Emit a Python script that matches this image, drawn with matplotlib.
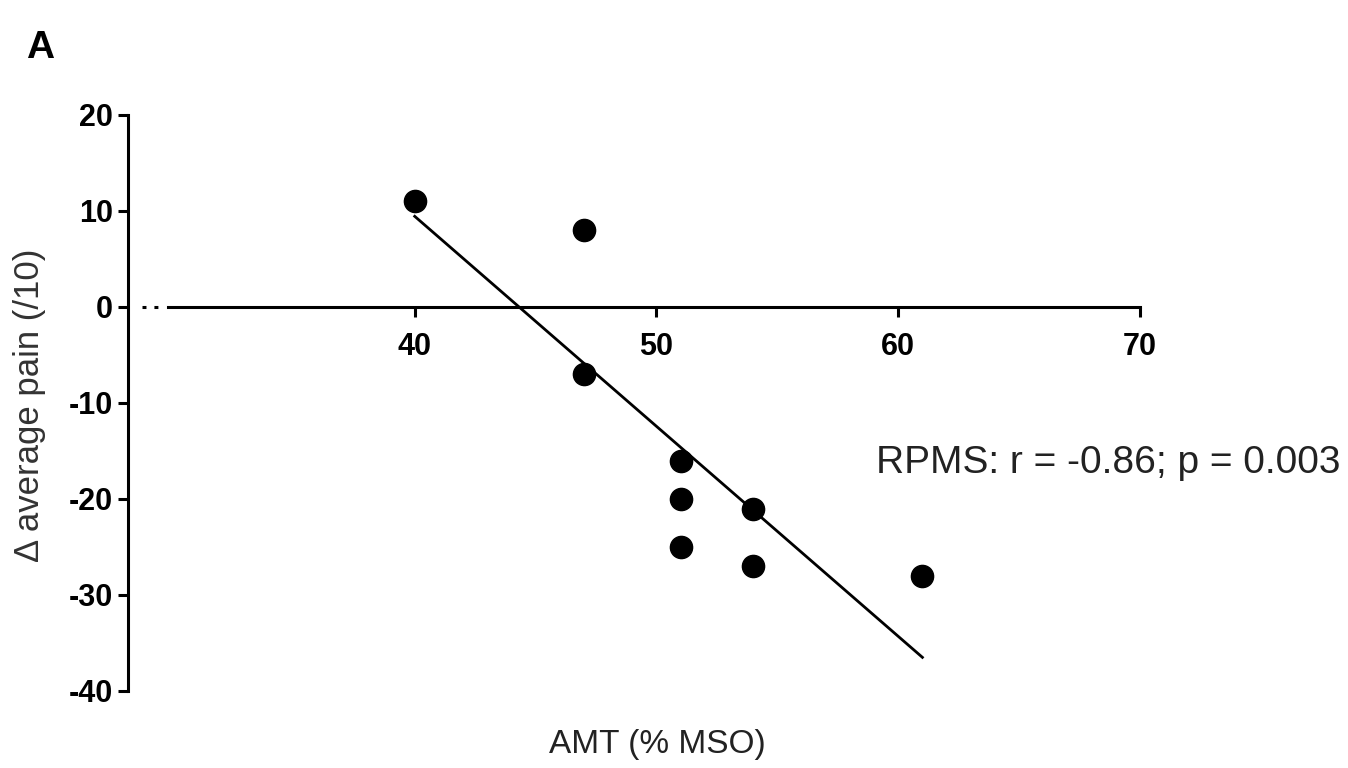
import numpy as np
import matplotlib
matplotlib.use("Agg")
import matplotlib.pyplot as plt

plt.rcParams['font.family'] = ['Liberation Sans', 'DejaVu Sans']
plt.rcParams['axes.unicode_minus'] = False

# data
amt = [40, 47, 47, 51, 51, 51, 54, 54, 61]          # AMT (% MSO)
pain = [11, 8, -7, -16, -20, -25, -21, -27, -28]    # delta average pain
x_ticks = [40, 50, 60, 70]
y_ticks = [20, 10, 0, -10, -20, -30, -40]
stat_text = "RPMS: r = -0.86; p = 0.003"

# linear fit
slope, intercept = np.polyfit(amt, pain, 1)
fit_x = np.array([min(amt), max(amt)])
fit_y = slope * fit_x + intercept

fig = plt.figure(figsize=(13.48, 7.68), dpi=100)
ax = fig.add_axes([128 / 1348, 77 / 768, 1012 / 1348, 576 / 768])

ax.set_xlim(28.14, 70)
ax.set_ylim(-40, 20)

ax.plot(fit_x, fit_y, color='black', linewidth=2.0, zorder=2)
ax.plot(amt, pain, 'o', color='black', markersize=16, zorder=3)

# axes styling (prism-like)
ax.spines['top'].set_visible(False)
ax.spines['right'].set_visible(False)
ax.spines['left'].set_linewidth(2.2)
ax.spines['bottom'].set_linewidth(2.2)
ax.spines['bottom'].set_position(('data', 0))
ax.spines['bottom'].set_bounds(29.8, 70)
ax.spines['left'].set_bounds(-40, 20)

# broken start of the x axis (two dots)
ax.plot([28.72, 29.46], [0, 0], color='black', linewidth=2.2,
        dashes=(1.3, 2.6), dash_capstyle='butt', clip_on=False, zorder=1)

ax.set_xticks(x_ticks)
ax.set_yticks(y_ticks)
ax.tick_params(axis='x', direction='out', length=7, width=2.2, pad=11,
               labelsize=22)
ax.tick_params(axis='y', direction='out', length=7, width=2.2, pad=4,
               labelsize=22)
for lab in ax.get_xticklabels() + ax.get_yticklabels():
    lab.set_fontweight('bold')

ax.set_xlabel('AMT (% MSO)', fontsize=24, color='#222222', va='center')
ax.xaxis.set_label_coords((657 - 128) / 1012, (691 - 745) / 576)
ax.set_ylabel('\u0394 average pain (/10)', fontsize=25, color='#333333',
              va='center')
ax.yaxis.set_label_coords((30 - 128) / 1012, (691 - 405) / 576)

ax.text(59.07, -16.3, stat_text, fontsize=28, color='#222222',
        ha='left', va='center')

fig.text(40 / 1348, 1 - 48 / 768, 'A', fontsize=28, fontweight='bold',
         ha='center', va='center')

fig.savefig('out.png', dpi=100)
